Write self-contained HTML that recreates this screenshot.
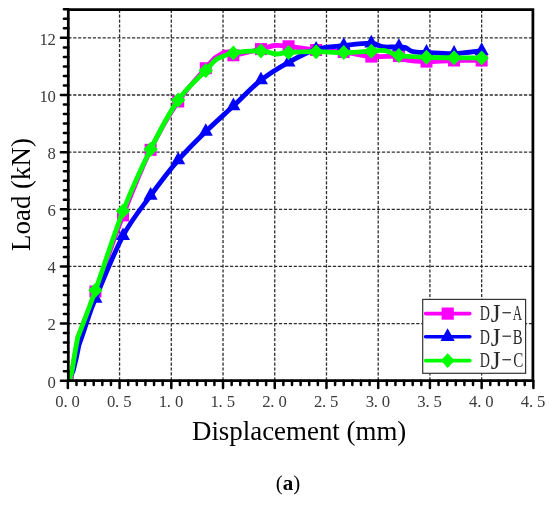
<!DOCTYPE html><html><head><meta charset="utf-8"><style>html,body{margin:0;padding:0;background:#fff;}svg{display:block;will-change:transform;}</style></head><body>
<svg width="550" height="505" viewBox="0 0 550 505">
<defs><clipPath id="pa"><rect x="68.30" y="9.70" width="464.60" height="371.00"/></clipPath></defs>
<rect width="550" height="505" fill="#fff"/>
<path d="M119.57 9.70V380.70M171.30 9.70V380.70M223.03 9.70V380.70M274.75 9.70V380.70M326.48 9.70V380.70M378.20 9.70V380.70M429.92 9.70V380.70M481.65 9.70V380.70M68.30 323.56H532.90M68.30 266.42H532.90M68.30 209.28H532.90M68.30 152.14H532.90M68.30 95.00H532.90M68.30 37.86H532.90" stroke="#2e2e2e" stroke-width="1.3" stroke-dasharray="3.2 1.7" fill="none"/>
<g clip-path="url(#pa)">
<path d="M69.50 380.00L72.40 370.00L75.80 350.00L78.40 336.00L80.00 332.50C82.57 325.67 88.27 311.02 95.44 291.50C102.61 271.98 113.83 239.02 123.02 215.40C132.22 191.78 141.41 168.78 150.61 149.80C159.81 130.82 169.00 115.10 178.20 101.50C187.39 87.90 199.58 75.52 205.78 68.20C211.98 60.88 212.65 60.07 215.40 57.60C218.15 55.13 220.57 54.33 222.30 53.40C224.03 52.47 223.96 51.68 225.80 52.00C227.65 52.32 227.51 55.78 233.37 55.30C239.23 54.82 254.02 50.73 260.96 49.10C267.89 47.47 270.40 45.97 275.00 45.50C279.60 45.03 281.69 45.55 288.54 46.30C295.40 47.05 306.93 49.03 316.13 50.00C325.33 50.97 334.52 51.00 343.72 52.10C352.91 53.20 362.11 55.93 371.30 56.60C380.50 57.27 392.94 55.50 398.89 56.10C404.84 56.70 402.40 59.28 407.00 60.20C411.60 61.12 418.63 61.55 426.48 61.60C434.32 61.65 444.87 60.68 454.06 60.50C463.26 60.32 477.05 60.50 481.65 60.50" stroke="#f0f" stroke-width="4.8" fill="none" stroke-linejoin="round" stroke-linecap="round"/>
<rect x="61.85" y="374.70" width="12" height="12" fill="#f0f"/>
<rect x="89.44" y="285.50" width="12" height="12" fill="#f0f"/>
<rect x="117.02" y="209.40" width="12" height="12" fill="#f0f"/>
<rect x="144.61" y="143.80" width="12" height="12" fill="#f0f"/>
<rect x="172.20" y="95.50" width="12" height="12" fill="#f0f"/>
<rect x="199.78" y="62.20" width="12" height="12" fill="#f0f"/>
<rect x="227.37" y="49.30" width="12" height="12" fill="#f0f"/>
<rect x="254.96" y="43.10" width="12" height="12" fill="#f0f"/>
<rect x="282.54" y="40.30" width="12" height="12" fill="#f0f"/>
<rect x="310.13" y="44.00" width="12" height="12" fill="#f0f"/>
<rect x="337.72" y="46.10" width="12" height="12" fill="#f0f"/>
<rect x="365.30" y="50.60" width="12" height="12" fill="#f0f"/>
<rect x="392.89" y="50.10" width="12" height="12" fill="#f0f"/>
<rect x="420.48" y="55.60" width="12" height="12" fill="#f0f"/>
<rect x="448.06" y="54.50" width="12" height="12" fill="#f0f"/>
<rect x="475.65" y="54.50" width="12" height="12" fill="#f0f"/>
<path d="M68.40 380.70L73.20 370.60L76.30 358.00L78.90 345.30L82.00 336.50L87.50 320.00C88.82 316.42 89.52 312.53 95.44 298.50C101.36 284.47 113.83 252.97 123.02 235.80C132.22 218.63 141.41 208.12 150.61 195.50C159.81 182.88 169.00 170.75 178.20 160.10C187.39 149.45 196.59 140.62 205.78 131.60C214.98 122.58 224.17 114.58 233.37 106.00C242.57 97.42 251.76 87.38 260.96 80.10C270.15 72.82 279.35 67.42 288.54 62.30C297.74 57.18 306.93 52.18 316.13 49.40C325.33 46.62 334.52 46.63 343.72 45.60C352.91 44.57 364.92 43.03 371.30 43.20C377.68 43.37 378.72 45.97 382.00 46.60C385.28 47.23 388.19 47.00 391.00 47.00C393.81 47.00 396.47 46.50 398.89 46.60C401.31 46.70 403.48 46.87 405.50 47.60C407.52 48.33 408.75 50.20 411.00 51.00C413.25 51.80 416.42 52.17 419.00 52.40C421.58 52.63 420.63 52.22 426.48 52.40C432.32 52.58 444.87 53.78 454.06 53.50C463.26 53.22 477.05 51.17 481.65 50.70" stroke="#00f" stroke-width="4.8" fill="none" stroke-linejoin="round" stroke-linecap="round"/>
<path d="M67.85 372.30L74.85 384.90L60.85 384.90Z" fill="#00f"/>
<path d="M95.44 290.10L102.44 302.70L88.44 302.70Z" fill="#00f"/>
<path d="M123.02 227.40L130.02 240.00L116.02 240.00Z" fill="#00f"/>
<path d="M150.61 187.10L157.61 199.70L143.61 199.70Z" fill="#00f"/>
<path d="M178.20 151.70L185.20 164.30L171.20 164.30Z" fill="#00f"/>
<path d="M205.78 123.20L212.78 135.80L198.78 135.80Z" fill="#00f"/>
<path d="M233.37 97.60L240.37 110.20L226.37 110.20Z" fill="#00f"/>
<path d="M260.96 71.70L267.96 84.30L253.96 84.30Z" fill="#00f"/>
<path d="M288.54 53.90L295.54 66.50L281.54 66.50Z" fill="#00f"/>
<path d="M316.13 41.00L323.13 53.60L309.13 53.60Z" fill="#00f"/>
<path d="M343.72 37.20L350.72 49.80L336.72 49.80Z" fill="#00f"/>
<path d="M371.30 34.80L378.30 47.40L364.30 47.40Z" fill="#00f"/>
<path d="M398.89 38.20L405.89 50.80L391.89 50.80Z" fill="#00f"/>
<path d="M426.48 44.00L433.48 56.60L419.48 56.60Z" fill="#00f"/>
<path d="M454.06 45.10L461.06 57.70L447.06 57.70Z" fill="#00f"/>
<path d="M481.65 42.30L488.65 54.90L474.65 54.90Z" fill="#00f"/>
<path d="M69.50 380.00L72.00 371.00L75.40 350.00L77.80 337.00L79.40 333.20C82.07 326.05 88.17 310.65 95.44 290.30C102.71 269.95 113.83 234.62 123.02 211.10C132.22 187.58 141.41 167.72 150.61 149.20C159.81 130.68 169.00 113.12 178.20 100.00C187.39 86.88 199.58 77.15 205.78 70.50C211.98 63.85 212.65 62.38 215.40 60.10C218.15 57.82 219.31 58.00 222.30 56.80C225.30 55.60 226.93 53.87 233.37 52.90C239.81 51.93 253.85 50.82 260.96 51.00C268.06 51.18 271.40 53.77 276.00 54.00C280.60 54.23 281.85 52.78 288.54 52.40C295.23 52.02 306.93 51.67 316.13 51.70C325.33 51.73 334.52 52.68 343.72 52.60C352.91 52.52 364.42 51.53 371.30 51.20C378.18 50.87 380.40 49.88 385.00 50.60C389.60 51.32 391.98 54.38 398.89 55.50C405.80 56.62 417.28 56.92 426.48 57.30C435.67 57.68 444.87 57.70 454.06 57.80C463.26 57.90 477.05 57.88 481.65 57.90" stroke="#0f0" stroke-width="4.8" fill="none" stroke-linejoin="round" stroke-linecap="round"/>
<path d="M67.85 373.20L75.05 380.70L67.85 388.20L60.65 380.70Z" fill="#0f0"/>
<path d="M95.44 282.80L102.64 290.30L95.44 297.80L88.24 290.30Z" fill="#0f0"/>
<path d="M123.02 203.60L130.22 211.10L123.02 218.60L115.82 211.10Z" fill="#0f0"/>
<path d="M150.61 141.70L157.81 149.20L150.61 156.70L143.41 149.20Z" fill="#0f0"/>
<path d="M178.20 92.50L185.40 100.00L178.20 107.50L171.00 100.00Z" fill="#0f0"/>
<path d="M205.78 63.00L212.98 70.50L205.78 78.00L198.58 70.50Z" fill="#0f0"/>
<path d="M233.37 45.40L240.57 52.90L233.37 60.40L226.17 52.90Z" fill="#0f0"/>
<path d="M260.96 43.50L268.16 51.00L260.96 58.50L253.76 51.00Z" fill="#0f0"/>
<path d="M288.54 44.90L295.74 52.40L288.54 59.90L281.34 52.40Z" fill="#0f0"/>
<path d="M316.13 44.20L323.33 51.70L316.13 59.20L308.93 51.70Z" fill="#0f0"/>
<path d="M343.72 45.10L350.92 52.60L343.72 60.10L336.52 52.60Z" fill="#0f0"/>
<path d="M371.30 43.70L378.50 51.20L371.30 58.70L364.10 51.20Z" fill="#0f0"/>
<path d="M398.89 48.00L406.09 55.50L398.89 63.00L391.69 55.50Z" fill="#0f0"/>
<path d="M426.48 49.80L433.68 57.30L426.48 64.80L419.28 57.30Z" fill="#0f0"/>
<path d="M454.06 50.30L461.26 57.80L454.06 65.30L446.86 57.80Z" fill="#0f0"/>
<path d="M481.65 50.40L488.85 57.90L481.65 65.40L474.45 57.90Z" fill="#0f0"/>
</g>
<path d="M68.3 9.7H532.9V380.7H68.3Z" fill="none" stroke="#000" stroke-width="2.75"/>
<path d="M67.85 380.70v7.4M76.47 380.70v4.4M85.09 380.70v4.4M93.71 380.70v4.4M102.33 380.70v4.4M110.95 380.70v4.4M119.57 380.70v7.4M128.20 380.70v4.4M136.82 380.70v4.4M145.44 380.70v4.4M154.06 380.70v4.4M162.68 380.70v4.4M171.30 380.70v7.4M179.92 380.70v4.4M188.54 380.70v4.4M197.16 380.70v4.4M205.78 380.70v4.4M214.40 380.70v4.4M223.03 380.70v7.4M231.65 380.70v4.4M240.27 380.70v4.4M248.89 380.70v4.4M257.51 380.70v4.4M266.13 380.70v4.4M274.75 380.70v7.4M283.37 380.70v4.4M291.99 380.70v4.4M300.61 380.70v4.4M309.23 380.70v4.4M317.85 380.70v4.4M326.48 380.70v7.4M335.10 380.70v4.4M343.72 380.70v4.4M352.34 380.70v4.4M360.96 380.70v4.4M369.58 380.70v4.4M378.20 380.70v7.4M386.82 380.70v4.4M395.44 380.70v4.4M404.06 380.70v4.4M412.68 380.70v4.4M421.30 380.70v4.4M429.92 380.70v7.4M438.55 380.70v4.4M447.17 380.70v4.4M455.79 380.70v4.4M464.41 380.70v4.4M473.03 380.70v4.4M481.65 380.70v7.4M490.27 380.70v4.4M498.89 380.70v4.4M507.51 380.70v4.4M516.13 380.70v4.4M524.75 380.70v4.4M533.38 380.70v7.4M68.30 380.70h-7.4M68.30 371.18h-4.4M68.30 361.65h-4.4M68.30 352.13h-4.4M68.30 342.61h-4.4M68.30 333.08h-4.4M68.30 323.56h-7.4M68.30 314.04h-4.4M68.30 304.51h-4.4M68.30 294.99h-4.4M68.30 285.47h-4.4M68.30 275.94h-4.4M68.30 266.42h-7.4M68.30 256.90h-4.4M68.30 247.37h-4.4M68.30 237.85h-4.4M68.30 228.33h-4.4M68.30 218.80h-4.4M68.30 209.28h-7.4M68.30 199.76h-4.4M68.30 190.23h-4.4M68.30 180.71h-4.4M68.30 171.19h-4.4M68.30 161.66h-4.4M68.30 152.14h-7.4M68.30 142.62h-4.4M68.30 133.09h-4.4M68.30 123.57h-4.4M68.30 114.05h-4.4M68.30 104.52h-4.4M68.30 95.00h-7.4M68.30 85.48h-4.4M68.30 75.95h-4.4M68.30 66.43h-4.4M68.30 56.91h-4.4M68.30 47.38h-4.4M68.30 37.86h-7.4M68.30 28.34h-4.4M68.30 18.81h-4.4M68.30 9.29h-4.4" stroke="#000" stroke-width="2.5" stroke-linecap="round" fill="none"/>
<g font-family="Liberation Serif" font-size="16.7" fill="#3a3a3a">
<text x="55.30 63.40 71.50" y="406.6">0.0</text>
<text x="107.02 115.12 123.22" y="406.6">0.5</text>
<text x="158.75 166.85 174.95" y="406.6">1.0</text>
<text x="210.47 218.57 226.67" y="406.6">1.5</text>
<text x="262.20 270.30 278.40" y="406.6">2.0</text>
<text x="313.93 322.03 330.12" y="406.6">2.5</text>
<text x="365.65 373.75 381.85" y="406.6">3.0</text>
<text x="417.37 425.47 433.57" y="406.6">3.5</text>
<text x="469.10 477.20 485.30" y="406.6">4.0</text>
<text x="520.83 528.93 537.03" y="406.6">4.5</text>
<text x="47.60" y="387.50">0</text>
<text x="47.60" y="330.36">2</text>
<text x="47.60" y="273.22">4</text>
<text x="47.60" y="216.08">6</text>
<text x="47.60" y="158.94">8</text>
<text x="39.40 47.60" y="101.80">10</text>
<text x="39.40 47.60" y="44.66">12</text>
</g>
<text x="191.97" y="439.6" font-family="Liberation Serif" font-size="26.9" fill="#000">Displacement (mm)</text>
<text transform="translate(29.5 250.9) rotate(-90)" font-family="Liberation Serif" font-size="26.9" fill="#000">Load (kN)</text>
<text x="275.8" y="489.5" font-family="Liberation Serif" font-size="21" fill="#000">(<tspan font-weight="bold">a</tspan>)</text>
<rect x="422.7" y="299.4" width="102.9" height="73.9" fill="#fff" stroke="#333" stroke-width="1.2"/>
<path d="M425.6 313.6H469.8" stroke="#f0f" stroke-width="3.6" stroke-linecap="round"/>
<rect x="441.60" y="307.50" width="12.2" height="12.2" fill="#f0f"/>
<text transform="translate(479.79 320.40) scale(0.64 1)" font-family="Liberation Serif" font-size="22" fill="#2a2a2a">D</text>
<text transform="translate(490.67 322.42) scale(1.15 1.14)" font-family="Liberation Serif" font-size="22" fill="#2a2a2a">J</text>
<text transform="translate(512.67 320.40) scale(0.59 1)" font-family="Liberation Serif" font-size="22" fill="#2a2a2a">A</text>
<rect x="502.4" y="312.05" width="8.6" height="1.3" fill="#3a3a3a"/>
<path d="M425.6 336.7H469.8" stroke="#00f" stroke-width="3.6" stroke-linecap="round"/>
<path d="M447.60 328.30L454.70 340.90L440.50 340.90Z" fill="#00f"/>
<text transform="translate(479.79 343.90) scale(0.64 1)" font-family="Liberation Serif" font-size="22" fill="#2a2a2a">D</text>
<text transform="translate(490.67 345.92) scale(1.15 1.14)" font-family="Liberation Serif" font-size="22" fill="#2a2a2a">J</text>
<text transform="translate(512.87 343.90) scale(0.67 1)" font-family="Liberation Serif" font-size="22" fill="#2a2a2a">B</text>
<rect x="502.4" y="335.55" width="8.6" height="1.3" fill="#3a3a3a"/>
<path d="M425.6 360.6H469.8" stroke="#0f0" stroke-width="3.6" stroke-linecap="round"/>
<path d="M447.70 353.30L454.60 360.60L447.70 367.90L440.80 360.60Z" fill="#0f0"/>
<text transform="translate(479.79 367.40) scale(0.64 1)" font-family="Liberation Serif" font-size="22" fill="#2a2a2a">D</text>
<text transform="translate(490.67 369.42) scale(1.15 1.14)" font-family="Liberation Serif" font-size="22" fill="#2a2a2a">J</text>
<text transform="translate(513.18 367.40) scale(0.685 1)" font-family="Liberation Serif" font-size="22" fill="#2a2a2a">C</text>
<rect x="502.4" y="359.05" width="8.6" height="1.3" fill="#3a3a3a"/>
</svg></body></html>
